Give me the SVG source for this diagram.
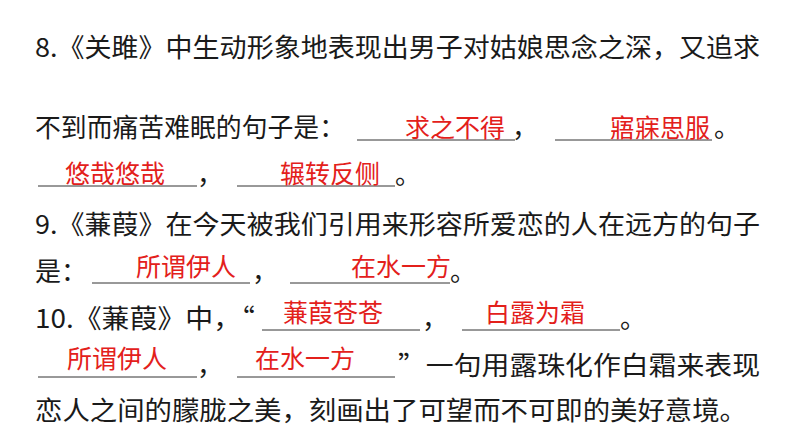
<svg xmlns="http://www.w3.org/2000/svg" width="794" height="447" viewBox="0 0 794 447">
<style>
.t{font-family:"Noto Sans CJK SC","Noto Sans",sans-serif;font-size:26px;fill:#1a1a1a}
.a{font-family:"Noto Sans CJK SC","Noto Sans",sans-serif;font-size:25px;fill:#e3201b;text-anchor:middle}
.u{stroke:#333;stroke-width:1}
</style>
<rect width="794" height="447" fill="#fff"/>
<g id="q8">
<text class="t" x="35" y="57" textLength="725" lengthAdjust="spacingAndGlyphs">8.《关雎》中生动形象地表现出男子对姑娘思念之深，又追求</text>
<text class="t" x="35" y="137" textLength="310" lengthAdjust="spacingAndGlyphs">不到而痛苦难眠的句子是：</text>
<text class="t" x="512" y="137">，</text>
<text class="t" x="714" y="137">。</text>
<text class="t" x="197" y="184">，</text>
<text class="t" x="395" y="184">。</text>
</g>
<g id="q9">
<text class="t" x="35" y="234" textLength="725" lengthAdjust="spacingAndGlyphs">9.《蒹葭》在今天被我们引用来形容所爱恋的人在远方的句子</text>
<text class="t" x="35" y="281">是：</text>
<text class="t" x="252" y="281">，</text>
<text class="t" x="450" y="281">。</text>
</g>
<g id="q10">
<text class="t" x="35" y="328" textLength="220" lengthAdjust="spacingAndGlyphs">10.《蒹葭》中，“</text>
<text class="t" x="422" y="328">，</text>
<text class="t" x="620" y="328">。</text>
<text class="t" x="197" y="375">，</text>
<text class="t" x="398" y="375" textLength="362" lengthAdjust="spacingAndGlyphs">”一句用露珠化作白霜来表现</text>
<text class="t" x="35" y="420" textLength="712" lengthAdjust="spacingAndGlyphs">恋人之间的朦胧之美，刻画出了可望而不可即的美好意境。</text>
</g>
<g id="blanks">
<line class="u" x1="357" y1="140" x2="515" y2="140"/>
<line class="u" x1="555" y1="140" x2="712" y2="140"/>
<line class="u" x1="38" y1="186" x2="197" y2="186"/>
<line class="u" x1="237" y1="186" x2="395" y2="186"/>
<line class="u" x1="92" y1="283" x2="250" y2="283"/>
<line class="u" x1="290" y1="283" x2="450" y2="283"/>
<line class="u" x1="262" y1="330" x2="420" y2="330"/>
<line class="u" x1="462" y1="330" x2="620" y2="330"/>
<line class="u" x1="38" y1="377" x2="197" y2="377"/>
<line class="u" x1="237" y1="377" x2="395" y2="377"/>
</g>
<g id="answers">
<text class="a" x="455" y="137">求之不得</text>
<text class="a" x="660" y="137">寤寐思服</text>
<text class="a" x="115" y="183">悠哉悠哉</text>
<text class="a" x="330" y="183">辗转反侧</text>
<text class="a" x="186" y="276">所谓伊人</text>
<text class="a" x="401" y="276">在水一方</text>
<text class="a" x="333" y="322">蒹葭苍苍</text>
<text class="a" x="535" y="322">白露为霜</text>
<text class="a" x="117" y="368">所谓伊人</text>
<text class="a" x="305" y="368">在水一方</text>
</g>
</svg>
